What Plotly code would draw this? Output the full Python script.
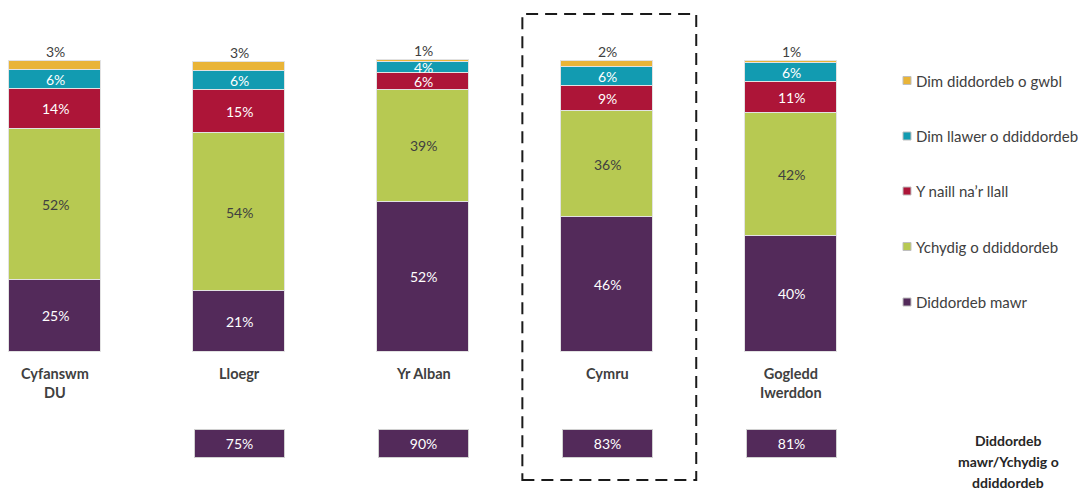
import plotly.graph_objects as go

# ---------------- data ----------------
categories = ["Cyfanswm<br>DU", "Lloegr", "Yr Alban", "Cymru", "Gogledd<br>Iwerddon"]
series_names = [
    "Diddordeb mawr",
    "Ychydig o ddiddordeb",
    "Y naill na\u2019r llall",
    "Dim llawer o ddiddordeb",
    "Dim diddordeb o gwbl",
]
diddordeb_mawr = [24.8, 20.9, 51.6, 46.3, 40.0]
ychydig_o_ddiddordeb = [51.9, 54.4, 38.6, 36.4, 42.1]
naill_nar_llall = [13.8, 14.8, 5.8, 8.7, 10.7]
dim_llawer = [6.4, 6.4, 3.6, 6.4, 6.4]
dim_gwbl = [3.1, 3.3, 0.8, 2.2, 0.8]
combined_values = [None, 75, 90, 83, 81]
combined_title = ["Diddordeb", "mawr/Ychydig o", "ddiddordeb"]
highlight_category = "Cymru"

# ---------------- style ----------------
W, H = 1085, 488
FONT = "Lato, 'Open Sans', sans-serif"
GREY = "#404040"
colors = ["#532A5A", "#B7C952", "#AD1538", "#129BB1", "#E9B437"]
text_colors = ["white", GREY, "white", "white", GREY]
series_values = [diddordeb_mawr, ychydig_o_ddiddordeb, naill_nar_llall, dim_llawer, dim_gwbl]

# pixel mapping (plot area covers whole figure)
px_per_cat = 184.0
x0 = -55.0 / px_per_cat
x1 = x0 + W / px_per_cat
px_per_pct = 2.91
y_top = 352.0 / px_per_pct
y_bot = -(H - 352.0) / px_per_pct


def pxx(p):
    return p / W


def pxy(p):
    return 1 - p / H


fig = go.Figure()
xs = list(range(len(categories)))
for name, vals, col in zip(series_names, series_values, colors):
    fig.add_trace(go.Bar(
        x=xs, y=vals, name=name, width=0.495,
        marker=dict(color=col, line=dict(color="#E2E2E2", width=1.2)),
        hoverinfo="skip", showlegend=False,
    ))

annotations = []
# segment labels
for i in xs:
    base = 0.0
    for k, (vals, tc) in enumerate(zip(series_values, text_colors)):
        v = vals[i]
        if k < len(series_values) - 1:
            annotations.append(dict(
                x=i, y=base + v / 2, xref="x", yref="y", text=f"{round(v)}%",
                showarrow=False, xanchor="center", yanchor="middle",
                font=dict(family=FONT, size=14, color=tc),
            ))
        else:
            annotations.append(dict(
                x=i, y=base + v, xref="x", yref="y", text=f"{round(v)}%",
                showarrow=False, xanchor="center", yanchor="bottom", yshift=-1,
                font=dict(family=FONT, size=14, color=GREY),
            ))
        base += v

# category labels
for i, c in enumerate(categories):
    annotations.append(dict(
        x=i, y=pxy(363), xref="x", yref="paper", text=f"<b>{c}</b>",
        showarrow=False, xanchor="center", yanchor="top",
        font=dict(family=FONT, size=14.5, color=GREY),
    ))

# combined boxes
for i, v in enumerate(combined_values):
    if v is None:
        continue
    annotations.append(dict(
        x=i, y=pxy(443.5), xref="x", yref="paper", text=f"{v}%",
        showarrow=False, xanchor="center", yanchor="middle",
        width=89, height=27, borderpad=0,
        bgcolor=colors[0], bordercolor="#D0D0D0", borderwidth=1,
        font=dict(family=FONT, size=14, color="white"),
    ))

# combined title on the right
for j, line in enumerate(combined_title):
    annotations.append(dict(
        x=pxx(1008), y=pxy(440 + 21 * j), xref="paper", yref="paper",
        text=f"<b>{line}</b>", showarrow=False,
        xanchor="center", yanchor="middle",
        font=dict(family=FONT, size=14, color="#262626"),
    ))

# manual legend (top to bottom: reverse stacking order)
shapes = []
legend_y = [80.5, 136, 191, 246.5, 302]
for j, (name, col) in enumerate(zip(series_names[::-1], colors[::-1])):
    cy = legend_y[j]
    shapes.append(dict(
        type="rect", xref="paper", yref="paper",
        x0=pxx(903), x1=pxx(911), y0=pxy(cy + 4), y1=pxy(cy - 4),
        fillcolor=col, line=dict(color="#BFBFBF", width=1),
    ))
    annotations.append(dict(
        x=pxx(914), y=pxy(cy), xref="paper", yref="paper", text=name,
        showarrow=False, xanchor="left", yanchor="middle",
        font=dict(family=FONT, size=15, color=GREY),
    ))

# dashed highlight box around Cymru
hi = categories.index(highlight_category)
shapes.append(dict(
    type="rect", xref="x", yref="paper",
    x0=hi - 0.46, x1=hi + 0.485, y0=pxy(480), y1=pxy(14),
    line=dict(color="#1A1A1A", width=2, dash="12px,7px"),
    fillcolor="rgba(0,0,0,0)",
))

fig.update_layout(
    width=W, height=H, barmode="stack", bargap=0,
    margin=dict(l=0, r=0, t=0, b=0),
    paper_bgcolor="white", plot_bgcolor="white",
    xaxis=dict(range=[x0, x1], visible=False, fixedrange=True),
    yaxis=dict(range=[y_bot, y_top], visible=False, fixedrange=True),
    annotations=annotations, shapes=shapes,
    font=dict(family=FONT, color=GREY),
)

fig.write_html(
    "out.html",
    config={"displayModeBar": False},
    post_script="document.body.style.margin='0px';document.body.style.overflow='hidden';",
)
